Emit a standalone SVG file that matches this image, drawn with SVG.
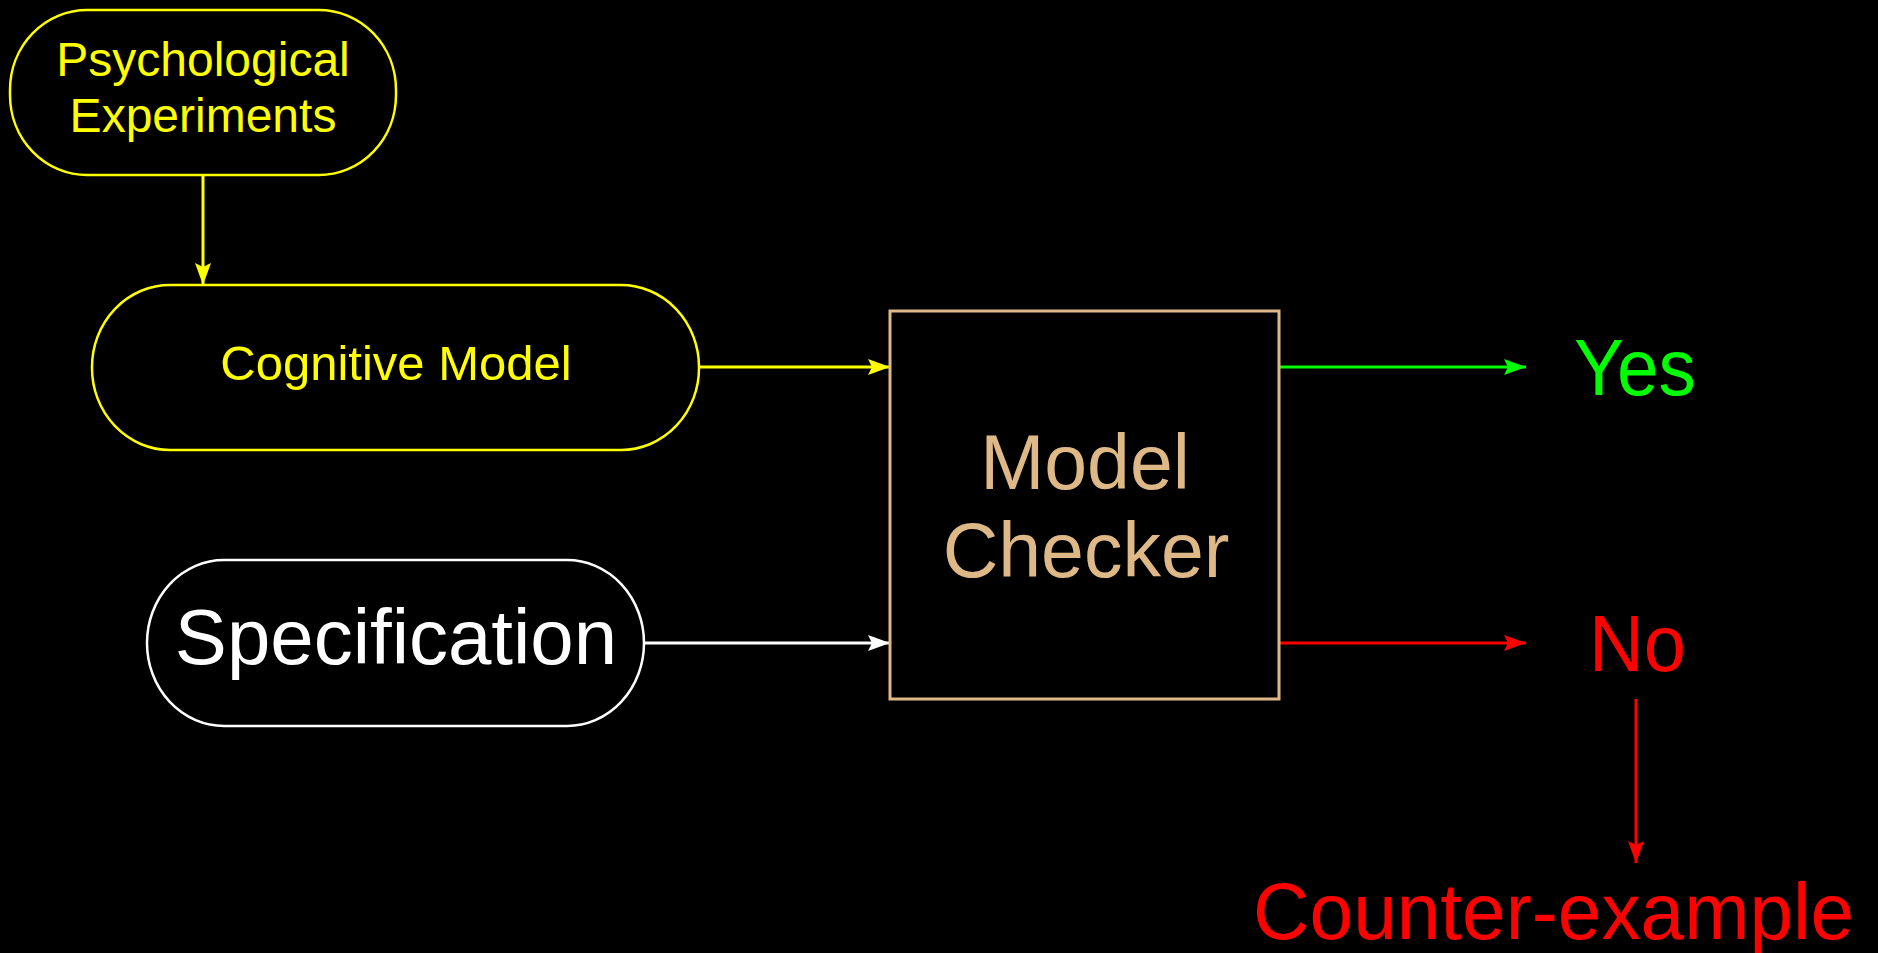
<svg xmlns="http://www.w3.org/2000/svg" width="1878" height="953" viewBox="0 0 1878 953">
  <style>
    text { font-family: "Liberation Sans", Arial, sans-serif; }
    .node { fill: #000; stroke-width: 2.5; }
    .conn { fill: none; stroke-width: 3; }
  </style>
  <defs>
    <marker id="aY" viewBox="0 0 22 16" refX="22" refY="8" markerWidth="22" markerHeight="16" markerUnits="userSpaceOnUse" orient="auto"><path d="M0,0 L22,8 L0,16 L4,8 z" fill="#FFFF00"/></marker>
    <marker id="aW" viewBox="0 0 22 16" refX="22" refY="8" markerWidth="22" markerHeight="16" markerUnits="userSpaceOnUse" orient="auto"><path d="M0,0 L22,8 L0,16 L4,8 z" fill="#FFFFFF"/></marker>
    <marker id="aG" viewBox="0 0 22 16" refX="22" refY="8" markerWidth="22" markerHeight="16" markerUnits="userSpaceOnUse" orient="auto"><path d="M0,0 L22,8 L0,16 L4,8 z" fill="#00FF00"/></marker>
    <marker id="aR" viewBox="0 0 22 16" refX="22" refY="8" markerWidth="22" markerHeight="16" markerUnits="userSpaceOnUse" orient="auto"><path d="M0,0 L22,8 L0,16 L4,8 z" fill="#FF0000"/></marker>
  </defs>
  <rect x="0" y="0" width="1878" height="953" fill="#000"/>

  <g id="connectors">
    <line class="conn" x1="203" y1="175" x2="203" y2="285" stroke="#FFFF00" marker-end="url(#aY)"/>
    <line class="conn" x1="699" y1="367" x2="890" y2="367" stroke="#FFFF00" marker-end="url(#aY)"/>
    <line class="conn" x1="644" y1="643" x2="890" y2="643" stroke="#FFFFFF" marker-end="url(#aW)"/>
    <line class="conn" x1="1279" y1="367" x2="1526" y2="367" stroke="#00FF00" marker-end="url(#aG)"/>
    <line class="conn" x1="1279" y1="643" x2="1526" y2="643" stroke="#FF0000" marker-end="url(#aR)"/>
    <line class="conn" x1="1636" y1="699" x2="1636" y2="863" stroke="#FF0000" marker-end="url(#aR)"/>
  </g>

  <g id="psych">
    <rect class="node" x="10" y="10" width="386" height="165" rx="77" ry="80" stroke="#FFFF00"/>
    <text x="203" y="76" font-size="48" fill="#FFFF00" text-anchor="middle">Psychological</text>
    <text x="203" y="132" font-size="48" fill="#FFFF00" text-anchor="middle">Experiments</text>
  </g>

  <g id="cognitive">
    <rect class="node" x="92" y="285" width="607" height="165" rx="78" ry="82" stroke="#FFFF00"/>
    <text x="396" y="380" font-size="49" fill="#FFFF00" text-anchor="middle">Cognitive Model</text>
  </g>

  <g id="specification">
    <rect class="node" x="147" y="560" width="497" height="166" rx="77" ry="83" stroke="#FFFFFF"/>
    <text x="396" y="664" font-size="78" fill="#FFFFFF" text-anchor="middle">Specification</text>
  </g>

  <g id="checker">
    <rect x="890" y="311" width="389" height="388" fill="#000" stroke="#DEB887" stroke-width="3"/>
    <text x="1085" y="489" font-size="77" fill="#DEB887" text-anchor="middle">Model</text>
    <text x="1086" y="577" font-size="77" fill="#DEB887" text-anchor="middle">Checker</text>
  </g>

  <g id="yes">
    <text x="1574" y="395" font-size="80" fill="#00FF00" textLength="122" lengthAdjust="spacingAndGlyphs">Yes</text>
  </g>

  <g id="no">
    <text x="1589" y="671" font-size="80" fill="#FF0000" textLength="97" lengthAdjust="spacingAndGlyphs">No</text>
  </g>

  <g id="counterexample">
    <text x="1253" y="939" font-size="80" fill="#FF0000" textLength="601" lengthAdjust="spacingAndGlyphs">Counter-example</text>
  </g>
</svg>
